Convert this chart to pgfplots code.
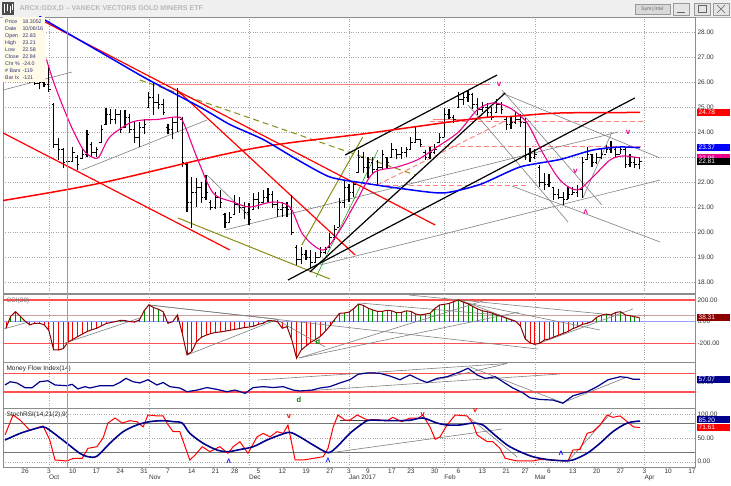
\documentclass[border=0pt]{standalone}
\usepackage{pgfplots}
\pgfplotsset{compat=1.18}
\usepackage{pgfplotstable}
\usepackage{fontspec}
\setmainfont{Liberation Sans}

\definecolor{bgyel}{RGB}{255,251,232}
\definecolor{infotxt}{RGB}{50,50,120}
\definecolor{curs}{RGB}{190,140,140}
\definecolor{lred}{RGB}{255,125,125}
\definecolor{oliv}{RGB}{140,140,20}
\definecolor{navyb}{RGB}{0,0,140}
\definecolor{cciline}{RGB}{140,0,0}
\definecolor{ccigrn}{RGB}{0,140,0}
\definecolor{zeroln}{RGB}{150,160,255}
\definecolor{curln}{RGB}{205,160,160}
\definecolor{refred}{RGB}{255,80,80}

\pgfdeclareplotmark{cls}{\pgfsetbuttcap\pgfpathmoveto{\pgfpointorigin}\pgfpathlineto{\pgfpoint{2pt}{0pt}}\pgfusepathqstroke}
\pgfdeclareplotmark{opn}{\pgfsetbuttcap\pgfpathmoveto{\pgfpointorigin}\pgfpathlineto{\pgfpoint{-2pt}{0pt}}\pgfusepathqstroke}

\newcommand\tickfont{\fontsize{6.5}{7}\selectfont}

\tikzset{vbox/.style={anchor=west, fill=#1, text=white, font=\tickfont, inner sep=1.2pt,
    minimum width=33pt, text width=29pt, align=left, xshift=1.5pt}}

\pgfplotsset{
  panel/.style={scale only axis, width=692pt, xmin=-4.62, xmax=140.64,
    clip mode=individual, axis line style={black!45}, tick style={draw=none},
    xtick={0,5,10,15,20,25,30,35,40,44,49,54,59,64,68,72,77,81,86,91,96,101,105,110,115,120,125,130,135,140},
    xticklabels={},
    extra x ticks={5,26,47,68,88,107,130}, extra x tick labels={},
    extra x tick style={grid=major},
    major grid style={dotted, black!35},
    yticklabel pos=right,
    yticklabel style={anchor=west, xshift=-1pt, font=\tickfont, text=black!80},
    /pgf/number format/fixed, /pgf/number format/fixed zerofill,
    /pgf/number format/precision=2, /pgf/number format/assume math mode=true},
  tl/.style={forget plot, no marks},
}

% daily bars: day index, low, high, open, close
\pgfplotstableread{
d lo hi op cl
-4 26.40 27.00 26.60 26.80
-3 26.50 27.10 26.80 26.70
-2 26.30 26.90 26.70 26.50
-1 26.20 26.80 26.50 26.40
0 26.10 26.70 26.40 26.30
1 25.95 26.40 26.30 26.10
2 25.88 26.08 26.05 25.95
3 25.70 26.10 25.95 26.00
4 25.80 26.30 26.00 25.90
5 25.60 26.60 25.90 25.70
6 23.36 25.16 25.10 23.50
7 22.88 23.76 23.50 23.30
8 22.56 23.36 23.30 22.80
9 22.58 23.21 22.83 22.84
10 22.80 23.40 22.84 23.20
11 22.48 23.08 23.00 22.70
12 22.90 23.36 22.95 23.10
13 23.00 24.08 23.10 23.90
14 23.00 23.60 23.50 23.20
15 23.00 23.40 23.20 23.30
16 23.56 24.28 23.60 24.10
17 24.28 24.96 24.30 24.70
18 24.30 24.90 24.70 24.50
19 24.30 24.90 24.50 24.70
20 23.96 24.88 24.70 24.10
21 24.16 24.88 24.20 24.60
22 23.96 24.70 24.60 24.10
23 23.56 24.40 24.10 23.80
24 23.40 24.40 23.80 24.20
25 23.90 24.50 24.20 24.30
26 24.95 25.60 25.00 25.40
27 24.68 25.96 25.40 25.20
28 24.90 25.50 25.20 25.10
29 24.68 25.32 25.10 24.80
30 23.90 24.30 24.20 24.10
31 23.70 24.60 24.10 24.40
32 24.00 25.76 24.40 24.60
33 22.60 24.60 24.50 22.80
34 20.80 22.76 22.70 21.20
35 20.16 22.20 21.20 21.60
36 21.00 22.16 21.60 21.80
37 21.16 22.01 21.80 21.40
38 21.28 22.28 21.40 21.60
39 20.88 21.28 21.20 21.00
40 20.90 21.60 21.00 21.40
41 20.96 21.68 21.40 21.20
42 20.16 20.76 20.70 20.40
43 20.40 20.80 20.40 20.60
44 20.68 21.48 20.70 21.10
45 20.76 21.40 21.10 21.00
46 20.50 21.20 21.00 20.80
47 20.28 21.16 20.80 20.50
48 20.88 21.56 20.90 21.30
49 20.90 21.60 21.30 21.20
50 21.16 21.68 21.20 21.40
51 21.16 21.76 21.40 21.50
52 20.96 21.64 21.50 21.10
53 20.60 21.28 21.10 20.90
54 20.60 21.20 20.90 21.00
55 20.60 21.20 21.00 20.90
56 19.88 21.48 20.90 20.00
57 18.68 19.48 19.40 18.90
58 18.70 19.40 18.90 19.10
59 18.88 19.28 19.10 19.00
60 18.56 19.28 19.00 18.80
61 18.80 19.20 18.80 19.00
62 19.00 19.40 19.00 19.20
63 19.10 19.40 19.20 19.30
64 19.40 19.96 19.40 19.80
65 19.68 20.28 19.80 20.10
66 20.20 21.36 20.20 21.20
67 20.96 22.08 21.20 21.80
68 21.20 21.90 21.80 21.60
69 21.40 22.00 21.60 21.90
70 22.36 23.28 22.40 23.00
71 22.36 23.20 23.00 22.60
72 22.16 23.00 22.60 22.80
73 22.30 23.00 22.80 22.50
74 21.88 22.88 22.50 22.60
75 22.48 23.28 22.60 23.10
76 22.50 23.00 23.00 22.80
77 23.00 23.56 23.00 23.30
78 22.90 23.30 23.30 23.10
79 22.90 23.40 23.10 23.20
80 23.00 23.40 23.20 23.30
81 23.28 23.80 23.30 23.60
82 23.56 24.20 23.60 23.70
83 23.40 23.72 23.70 23.50
84 22.88 23.28 23.20 23.00
85 22.90 23.40 23.00 23.20
86 23.10 23.50 23.20 23.30
87 23.56 23.96 23.60 23.80
88 23.80 24.96 23.80 24.70
89 24.50 24.90 24.70 24.60
90 24.36 24.68 24.60 24.50
91 24.96 25.60 25.00 25.30
92 25.08 25.60 25.30 25.40
93 25.20 25.68 25.40 25.50
94 24.92 25.56 25.50 25.10
95 24.68 25.36 25.10 24.90
96 24.80 25.20 24.90 25.00
97 24.60 25.16 25.00 24.80
98 24.48 25.00 24.80 24.60
99 24.80 25.30 24.80 25.10
100 24.70 25.20 25.10 24.90
101 24.08 24.60 24.50 24.30
102 24.10 24.60 24.30 24.40
103 24.30 24.80 24.40 24.50
104 24.20 24.70 24.50 24.40
105 22.88 24.56 24.40 23.10
106 22.80 23.36 23.10 23.00
107 22.90 23.30 23.00 23.10
108 21.80 22.68 22.60 22.00
109 21.68 22.36 22.00 21.90
110 21.80 22.30 21.90 22.00
111 21.28 21.80 21.80 21.50
112 21.30 21.70 21.50 21.40
113 21.08 21.60 21.40 21.30
114 21.30 21.80 21.30 21.50
115 21.50 21.80 21.50 21.60
116 21.40 21.88 21.60 21.70
117 21.36 23.00 21.70 22.80
118 22.88 23.40 22.90 23.10
119 22.60 23.10 23.10 22.80
120 22.70 23.16 22.80 23.00
121 22.90 23.30 23.00 23.10
122 23.16 23.48 23.10 23.30
123 23.16 23.64 23.30 23.40
124 22.96 23.36 23.30 23.10
125 23.10 23.44 23.10 23.30
126 22.56 23.40 23.30 22.70
127 22.60 23.10 22.70 22.80
128 22.56 23.00 22.80 22.70
129 22.50 23.00 22.70 22.81
}\ohlc

% CCI(20) by day
\pgfplotstableread{
d v
-4 -60
-3 50
-2 92
-1 50
0 5
1 -30
2 -15
3 -15
4 -28
5 -80
6 -260
7 -262
8 -250
9 -190
10 -165
11 -140
12 -115
13 -92
14 -75
15 -62
16 -40
17 -18
18 -8
19 0
20 12
21 10
22 0
23 -3
24 15
25 100
26 155
27 130
28 115
29 92
30 -15
31 0
32 62
33 -107
34 -307
35 -277
36 -185
37 -145
38 -125
39 -110
40 -100
41 -95
42 -88
43 -80
44 -72
45 -64
46 -55
47 -50
48 -42
49 -25
50 -15
51 10
52 8
53 0
54 -61
55 -46
56 -168
57 -338
58 -261
59 -225
60 -190
61 -165
62 -135
63 -90
64 -40
65 20
66 77
67 80
68 88
69 120
70 163
71 150
72 125
73 108
74 95
75 95
76 105
77 100
78 82
79 85
80 100
81 95
82 70
83 62
84 70
85 77
86 120
87 154
88 160
89 168
90 185
91 200
92 180
93 165
94 140
95 118
96 100
97 92
98 80
99 62
100 50
101 32
102 18
103 2
104 -40
105 -160
106 -195
107 -210
108 -200
109 -170
110 -160
111 -142
112 -125
113 -108
114 -90
115 -65
116 -48
117 -25
118 -15
119 0
120 40
121 60
122 70
123 62
124 85
125 92
126 62
127 55
128 45
129 38
}\cci

\begin{document}
\begin{tikzpicture}[x=1pt,y=1pt]
\fill[white] (0,0) rectangle (731,485);
\coordinate (pMain) at (3,192);
\coordinate (pCci) at (3,123);
\coordinate (pMfi) at (3,77);
\coordinate (pSto) at (3,18);
% title bar
\fill[black!6] (0,468) rectangle (731,485);
\draw[black!30] (0,468) -- (731,468);
\fill[black!70] (2,470) rectangle (14,483);
\draw[white, line width=0.8pt] (4,472) -- (4,481) (7,474) -- (7,481) (10,472) -- (10,479) (12,475) -- (12,481);
\node[anchor=west, text=black!28, font=\fontsize{7}{8}\selectfont\bfseries] at (16,476.5) {ARCX:GDX,D -- VANECK VECTORS GOLD MINERS ETF};
\draw[black!40, fill=black!15] (635,471) rectangle (670,481);
\node[font=\fontsize{5}{6}\selectfont, text=black!60] at (652.5,476) {Sym\,|\,Intvl};
\foreach \bx in {673,694,713}{\draw[black!40, fill=black!10] (\bx,470) rectangle (\bx+16,482);}
\draw[black!60] (677,473) -- (685,473);
\draw[black!60] (698,472.5) rectangle (706,479.5);
\draw[black!60] (717,472) -- (725,480) (717,480) -- (725,472);

% ---------- price panel ----------
\begin{axis}[panel, at={(pMain)}, anchor=south west, height=276pt,
  ymin=17.56, ymax=28.6, ytick={18,19,20,21,22,23,24,25,26,27,28}, ymajorgrids]
\addplot[tl, lred, line width=0.9pt] coordinates {(27.9,25.92) (97.6,25.92)};
\addplot[tl, lred, line width=0.9pt] coordinates {(85.6,24.5) (95.5,24.5)};
\addplot[tl, lred, line width=0.9pt, dash pattern=on 5pt off 3pt] coordinates {(85,24.44) (130,24.44)};
\addplot[tl, lred, line width=0.9pt, dash pattern=on 5pt off 3pt] coordinates {(83,23.44) (130,23.44)};
\addplot[tl, lred, line width=0.9pt, dash pattern=on 5pt off 3pt] coordinates {(73.9,21.88) (105.6,21.88)};
\addplot[tl, lred, line width=0.9pt, dash pattern=on 5pt off 3pt] coordinates {(73.9,21.88) (100.3,24.4)};
\addplot[tl, gray, line width=0.6pt] coordinates {(-4.6,25.68) (9.9,26.4)};
\addplot[tl, gray, line width=0.6pt] coordinates {(12,22.48) (38.2,24.48)};
\addplot[tl, gray, line width=0.6pt] coordinates {(38.2,22.28) (47.2,20.6)};
\addplot[tl, gray, line width=0.6pt] coordinates {(42,20.08) (124.5,24.0)};
\addplot[tl, gray, line width=0.6pt] coordinates {(61.9,18.68) (133.3,22.08)};
\addplot[tl, gray, line width=0.6pt] coordinates {(102.2,21.84) (133.3,19.6)};
\addplot[tl, gray, line width=0.6pt] coordinates {(100.1,25.56) (133.3,22.96)};
\addplot[tl, gray, line width=0.6pt] coordinates {(93,25.08) (114,20.4)};
\addplot[tl, gray, line width=0.6pt] coordinates {(100.1,25.68) (121.1,21.08)};
\addplot[tl, gray, line width=0.6pt] coordinates {(117.1,21.36) (123.2,24.0)};
\addplot[tl, oliv, line width=1pt, dash pattern=on 6pt off 4pt] coordinates {(24.1,26.08) (81.9,22.28)};
\addplot[tl, oliv, line width=1pt] coordinates {(32.1,20.56) (64,18.12)};
\addplot[tl, oliv, line width=1pt] coordinates {(58.1,19.48) (70.9,23.8)};
\addplot[tl, green!60!black, line width=0.5pt] coordinates {(61.1,18.2) (74.1,23.28)};
\addplot[tl, red, line width=1.2pt] coordinates {(4.2,28.4) (86.1,20.28)};
\addplot[tl, red, line width=1.2pt] coordinates {(31.9,25.68) (69.3,19.08)};
\addplot[tl, red, line width=1.2pt] coordinates {(-4.6,23.96) (43,19.28)};
\addplot[tl, black, line width=1.2pt] coordinates {(67.2,23.08) (99.1,26.28)};
\addplot[tl, black, line width=1.2pt] coordinates {(59.8,18.4) (100.8,25.56)};
\addplot[tl, black, line width=1.2pt] coordinates {(55.2,18.08) (128,25.36)};
% daily bars: high-low range, then open and close ticks
\addplot[draw=none, mark=none, forget plot,
  error bars/.cd, y dir=plus, y explicit, error mark=none,
  error bar style={draw=black, line width=1.2pt}]
  table[x=d, y=lo, y error expr=\thisrow{hi}-\thisrow{lo}] {\ohlc};
\addplot[only marks, mark=cls, black, line width=0.8pt, forget plot] table[x=d, y=cl] {\ohlc};
\addplot[only marks, mark=opn, black, line width=0.8pt, forget plot] table[x=d, y=op] {\ohlc};
% moving averages
\addplot[tl, red, line width=1.5pt, smooth] coordinates {(-4.6,21.26) (15.7,21.95) (47.2,23.32) (72,23.95) (95.5,24.56) (101.8,24.62) (112.3,24.76) (129.1,24.78)};
\addplot[tl, blue, line width=1.5pt, smooth, tension=0.4] coordinates {(3,28.7) (4.2,28.48) (18.5,26.9) (25.6,26.12) (36.7,25.0) (43,24.3) (50,23.7) (57.1,22.9) (64,22.2) (71,21.96) (78.1,21.76) (87.7,21.56) (95.5,21.9) (103.9,22.6) (112.3,22.9) (119.2,23.28) (124.9,23.4) (129.1,23.37)};
\addplot[tl, magenta, line width=1.1pt, smooth, tension=0.5] coordinates {(4.5,26.9) (6,26.0) (8,25.0) (10,24.1) (12.2,23.3) (14,23.0) (15.5,23.0) (17.8,23.8) (22,24.36) (24.8,24.48) (27.7,24.5) (31.9,24.6) (33.2,24.4) (36.3,22.88) (39.5,21.56) (43.7,21.2) (47.2,21.0) (52,21.2) (55.6,21.0) (58.4,19.88) (62.6,19.28) (66.1,20.08) (69.7,21.28) (73.1,22.36) (78.1,22.6) (82.3,22.88) (86.5,23.4) (91,24.0) (94.9,24.88) (98.2,25.16) (101.8,24.96) (105.4,24.36) (108.7,23.16) (112.3,22.08) (115.9,21.68) (119.2,22.2) (122.8,22.88) (125.5,23.04) (129.1,22.96)};
\node[text=magenta, font=\fontsize{8}{8}\selectfont\bfseries] at (axis cs:99.5,25.9) {v};
\node[text=magenta, font=\fontsize{8}{8}\selectfont\bfseries] at (axis cs:115.5,22.41) {v};
\node[text=magenta, font=\fontsize{7}{7}\selectfont\bfseries] at (axis cs:117.7,20.81) {Λ};
\node[text=magenta, font=\fontsize{8}{8}\selectfont\bfseries] at (axis cs:126.6,23.97) {v};
\node[vbox=red] at (axis cs:140.64,24.78) {24.78};
\node[vbox=magenta] at (axis cs:140.64,22.96) {22.96};
\node[vbox=blue] at (axis cs:140.64,23.37) {23.37};
\node[vbox=black] at (axis cs:140.64,22.81) {22.81};
\end{axis}

% ---------- CCI panel ----------
\begin{axis}[panel, at={(pCci)}, anchor=south west, height=68pt,
  ymin=-372.8, ymax=255.5, ytick={-200,0,200}]
\addplot[tl, refred, line width=1.2pt] coordinates {(-4.62,200) (140.64,200)};
\addplot[tl, refred, line width=1.2pt] coordinates {(-4.62,-200) (140.64,-200)};
\addplot[tl, zeroln, line width=1.2pt] coordinates {(-4.62,0) (140.64,0)};
\addplot[tl, curln, line width=1.5pt] coordinates {(-4.62,55) (140.64,55)};
\addplot[ycomb, ccigrn, line width=0.7pt, forget plot, restrict y to domain=0:1000] table[x=d, y=v] {\cci};
\addplot[ycomb, red, line width=0.7pt, forget plot, restrict y to domain=-1000:0] table[x=d, y=v] {\cci};
\addplot[tl, gray, line width=0.6pt] coordinates {(-4.4,-67) (1,0)};
\addplot[tl, gray, line width=0.6pt] coordinates {(8.4,-197) (24.1,34)};
\addplot[tl, gray, line width=0.6pt] coordinates {(25.8,154) (52.9,24)};
\addplot[tl, gray, line width=0.6pt] coordinates {(26.2,154) (107.7,-253)};
\addplot[tl, gray, line width=0.6pt] coordinates {(34,-308) (52.9,20)};
\addplot[tl, gray, line width=0.6pt] coordinates {(52.9,15) (63,-234)};
\addplot[tl, gray, line width=0.6pt] coordinates {(57.5,-336) (103.7,89)};
\addplot[tl, gray, line width=0.6pt] coordinates {(57.5,-336) (96.8,200)};
\addplot[tl, gray, line width=0.6pt] coordinates {(80.6,246) (121.3,71)};
\addplot[tl, gray, line width=0.6pt] coordinates {(91.3,200) (103.3,0)};
\addplot[tl, gray, line width=0.6pt] coordinates {(92.8,172) (120.7,-77)};
\addplot[tl, gray, line width=0.6pt] coordinates {(108.1,-197) (127.6,117)};
\addplot[tl, gray, line width=0.6pt] coordinates {(70.3,172) (99.7,61)};
\addplot[cciline, line width=1pt, no marks, forget plot] table[x=d, y=v] {\cci};
\node[anchor=north west, font=\tickfont, text=black!55] at (rel axis cs:0,1) {CCI(20)};
\node[text=green!50!black, font=\fontsize{7.5}{8}\selectfont\bfseries] at (axis cs:61.5,-188) {d};
\node[vbox={cciline}] at (axis cs:140.64,38.31) {38.31};
\end{axis}

% ---------- Money Flow Index panel ----------
\begin{axis}[panel, at={(pMfi)}, anchor=south west, height=46pt,
  ymin=-5.44, ymax=94.57, ytick={50}]
\addplot[tl, refred, line width=1.6pt] coordinates {(-4.62,70) (140.64,70)};
\addplot[tl, refred, line width=1.6pt] coordinates {(-4.62,30) (140.64,30)};
\addplot[tl, gray, line width=0.6pt] coordinates {(48.9,55.4) (101.2,91.3)};
\addplot[tl, gray, line width=0.6pt] coordinates {(60.2,32.6) (112.3,68.5)};
\addplot[tl, gray, line width=0.6pt] coordinates {(84.4,51) (101.2,91.3)};
\addplot[tl, gray, line width=0.6pt] coordinates {(93.4,83.7) (112.9,6.1)};
\addplot[tl, gray, line width=0.6pt] coordinates {(112.9,6.1) (126.4,62)};
\addplot[tl, navyb, line width=1.2pt] coordinates {(-4.2,44.6) (-3.1,51.7) (-1.7,49) (0,38.7) (1.5,38.7) (3.1,51.7) (4.8,53.8) (6.3,44.6) (8.8,43) (9.9,46) (11.1,36) (12.6,41) (13.6,38) (15.7,43) (18.5,43) (19.9,50) (21.2,59) (22.7,51.7) (24.1,49) (25.8,56) (27.7,44.6) (29,50) (30.4,41) (32.5,38) (34,30) (36.1,33.5) (38.2,39) (40.3,35) (42.4,30) (44.1,33.5) (46.2,26.5) (47.9,39) (50,41) (52.1,39) (54.2,41) (56.3,33.5) (57.7,31.6) (60.2,33.5) (61.9,38) (64,41) (66.1,49) (68.2,56) (69.9,67.8) (71.4,70) (72.4,71) (74.5,70) (76.6,64) (78.7,56) (80.8,66.5) (82.9,56) (84.4,50) (86.5,59) (88.6,62.5) (91.3,73) (93,81) (94.9,66.5) (96.6,59) (98.7,62.5) (100.3,51.7) (102.4,38) (104.5,27.6) (106,16.7) (108.1,13.1) (110.8,11.8) (112.9,5) (115,21) (118,30) (120.1,41) (122.4,56) (124.9,62.5) (126.4,61) (127.7,57) (129.1,57)};
\node[anchor=north west, font=\tickfont, text=black!85] at (rel axis cs:0,1) {Money Flow Index(14)};
\node[text=green!50!black, font=\fontsize{7.5}{8}\selectfont\bfseries] at (axis cs:57.5,12) {d};
\node[vbox=navyb] at (axis cs:140.64,57.07) {57.07};
\end{axis}

% ---------- StochRSI panel ----------
\begin{axis}[panel, at={(pSto)}, anchor=south west, height=59pt,
  ymin=-11.1, ymax=112.6, ytick={0,50,100}, ymajorgrids,
  xticklabels={26,3,10,17,24,31,7,14,21,28,5,12,19,27,3,9,17,23,30,6,13,21,27,6,13,20,27,3,10,17},
  xticklabel style={font=\tickfont, text=black!80, yshift=1.5pt}]
\addplot[tl, black!55, line width=0.8pt] coordinates {(-4.62,80) (140.64,80)};
\addplot[tl, black!55, line width=0.8pt] coordinates {(-4.62,20) (140.64,20)};
\addplot[tl, gray, line width=0.6pt] coordinates {(63.6,18) (100.1,68.5)};
\addplot[tl, gray, line width=0.6pt] coordinates {(93.4,91.6) (103.3,10)};
\addplot[tl, gray, line width=0.6pt] coordinates {(114,1.5) (123.2,104)};
\addplot[tl, black!75, line width=1.2pt] coordinates {(66.1,86) (76,86)};
\addplot[tl, red, line width=1pt] coordinates {(-4.2,56) (-2.5,98) (-1,87) (1,66) (3.8,75) (5.2,45.5) (6.3,3.6) (8.8,1.5) (10.1,7) (12,7) (13.2,28) (15.1,31.5) (16.4,50) (17.4,81) (18.9,91.6) (20.4,81) (22,86) (23.5,84) (24.8,73) (25.8,98) (27.7,96) (29,96) (30,78) (31.1,63) (32.5,63) (33.6,31.5) (34.6,3.6) (35.7,14) (37.2,31.5) (38.8,21) (40.9,31.5) (42.6,17.6) (43.7,31.5) (45.1,42) (46.8,17.6) (48.7,52) (50,59.5) (51.4,52) (52.9,63) (54.2,59.5) (55.2,77) (56.7,3.6) (58.4,3.6) (60.5,7) (62.6,10.5) (63.6,28) (64.7,73) (65.7,98) (67.2,87) (68.2,87) (69.7,98) (71,91.6) (72,87) (73,88.5) (76,86) (77.2,93) (79.1,84) (80.8,91.6) (82.5,91) (83.5,98) (85,73) (86.1,47) (87.1,52) (88.6,77) (90.3,98) (92.8,96) (94,81) (94.9,56) (97,42) (98.2,42) (99.7,28) (100.8,7) (103.3,1.5) (106.6,1.5) (108.1,4.6) (110.8,3.6) (113.3,1.5) (114,2) (115,24.5) (116.5,25.5) (118,59.5) (119.2,63) (120.7,77) (122.2,98) (123.4,93) (124.9,96) (126.4,84) (127.7,73) (129.1,71.6)};
\addplot[tl, navyb, line width=1.6pt, smooth, tension=0.5] coordinates {(-4.2,45.5) (-1,59.5) (1.7,68) (3.8,73) (5.2,66) (8.8,38.6) (11.5,17.6) (13.2,10.5) (15.1,11.6) (17.8,38.6) (20.6,63) (23.5,77) (26.2,84) (29,86) (31.1,84) (33,81) (34.6,59.5) (37.4,38.6) (40.3,24.5) (42.6,21) (45.1,25.5) (47.9,31.5) (50.8,45.5) (53.5,56) (55.6,61.5) (57.7,52) (60.5,35) (63.6,19) (65.5,31.5) (68.2,59.5) (71,81) (72.4,87) (77.2,86) (80.8,87) (83.5,91.6) (86.5,81) (88.6,77) (91.3,77) (94,81) (96.1,77) (98.2,59.5) (101.2,35) (103.9,21) (106.6,10.5) (109.6,4.6) (112.9,2) (115,3.6) (118,17.6) (120.7,38.6) (123.4,63) (126.4,81) (129.1,85.2)};
\node[anchor=north west, font=\tickfont, text=black!85] at (rel axis cs:0,1) {StochRSI(14,21(2),9)};
\node[text=blue, font=\fontsize{6.5}{7}\selectfont\bfseries] at (axis cs:42.8,1) {Λ};
\node[text=blue, font=\fontsize{6.5}{7}\selectfont\bfseries] at (axis cs:63.6,2) {Λ};
\node[text=blue, font=\fontsize{6.5}{7}\selectfont\bfseries] at (axis cs:112.5,17) {Λ};
\node[text=red, font=\fontsize{7.5}{8}\selectfont\bfseries] at (axis cs:55.4,94) {v};
\node[text=red, font=\fontsize{7.5}{8}\selectfont\bfseries] at (axis cs:83.5,98) {v};
\node[text=red, font=\fontsize{7.5}{8}\selectfont\bfseries] at (axis cs:94.5,107) {v};
\node[vbox=navyb] at (axis cs:140.64,87.5) {85.20};
\node[vbox=red] at (axis cs:140.64,71.61) {71.61};
\foreach \m/\t in {5/Oct,26/Nov,47/Dec,68/Jan 2017,88/Feb,107/Mar,130/Apr}{
  \edef\temp{\noexpand\node[anchor=north west, inner sep=0pt, font=\noexpand\tickfont, text=black!80] at (axis cs:\m,-11.1) [yshift=-7.5pt] {\t};}\temp}
\end{axis}

\draw[curs, line width=1pt] (67.9,18) -- (67.9,468);
\node[anchor=north west, fill=bgyel, text=infotxt, inner sep=1pt, minimum width=42pt,
  font=\fontsize{5.3}{7}\selectfont] at (3,468) {%
  \begin{tabular}{@{}l@{\hspace{2pt}}l@{}}
  Price & 18.3052\\ Date & 10/06/16\\ Open & 22.83\\ High & 23.21\\ Low & 22.58\\
  Close & 22.84\\ Chr \% & -24.0\\ \# Bars & -119\\ Bar Ix & -121
  \end{tabular}};
\pgfresetboundingbox
\path[use as bounding box] (0,0) rectangle (731,485);
\end{tikzpicture}
\end{document}
